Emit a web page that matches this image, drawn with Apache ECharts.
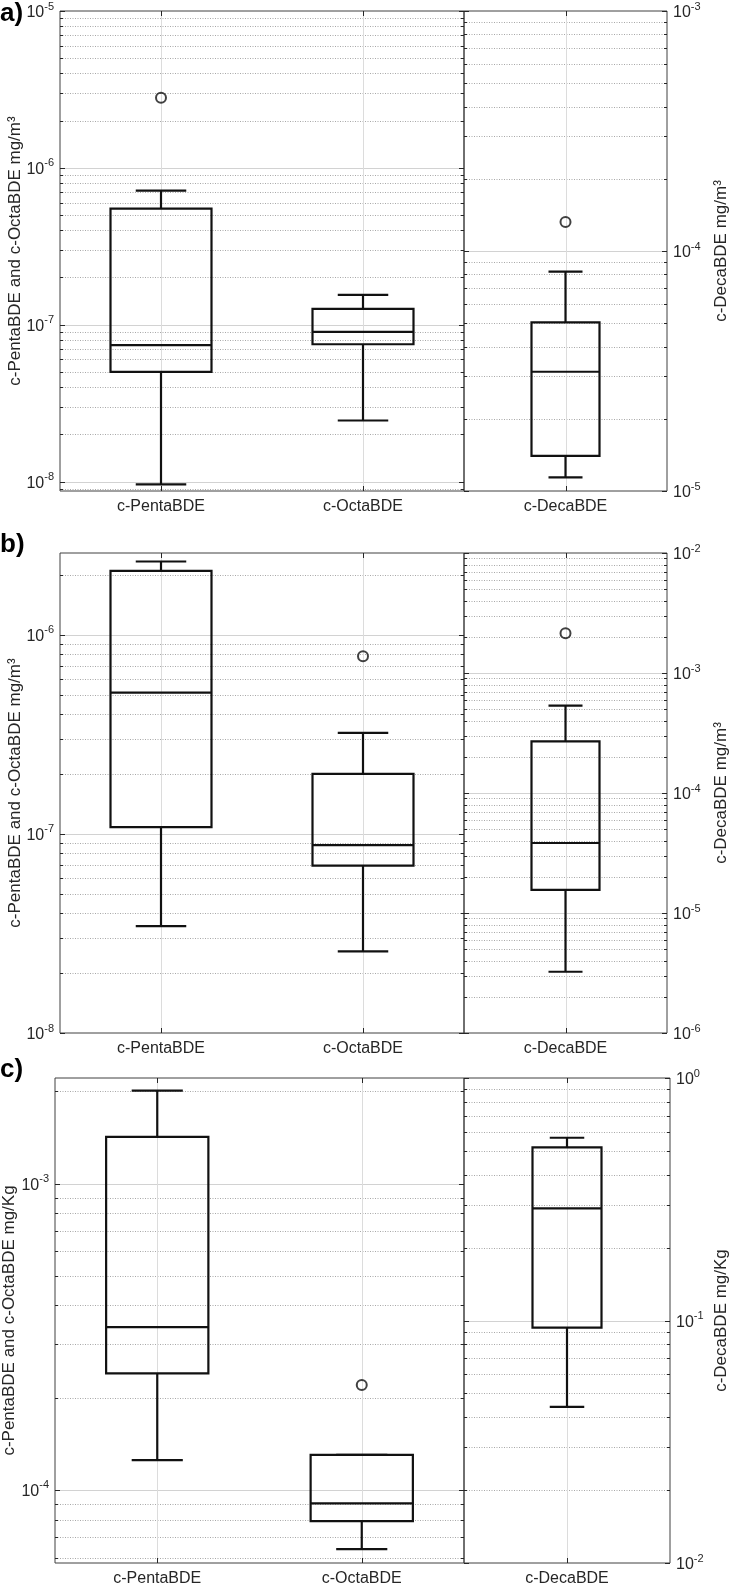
<!DOCTYPE html>
<html style="height: 100%">
<head>
    <meta charset="UTF-8">
    <title>PBDE boxplots</title>
    <script src="https://cdn.jsdelivr.net/npm/echarts@6/dist/echarts.min.js"></script>
</head>
<body style="height: 100%; margin: 0; background: #fff">
    <div id="main" style="width: 731px; height: 1586px;"></div>
    <script>
        // categories
        var catsLeft = ['c-PentaBDE', 'c-OctaBDE'];
        var catsRight = ['c-DecaBDE'];

        // box stats, each [min, Q1, median, Q3, max]
        var pentaA = [9.6e-9, 5.0e-8, 7.4e-8, 5.5e-7, 7.15e-7];
        var octaA = [2.45e-8, 7.5e-8, 9.0e-8, 1.26e-7, 1.55e-7];
        var decaA = [1.14e-5, 1.4e-5, 3.14e-5, 5.04e-5, 8.2e-5];
        var pentaB = [3.44e-8, 1.08e-7, 5.12e-7, 2.09e-6, 2.33e-6];
        var octaB = [2.57e-8, 6.93e-8, 8.77e-8, 2.0e-7, 3.21e-7];
        var decaB = [3.24e-6, 1.56e-5, 3.83e-5, 2.69e-4, 5.34e-4];
        var pentaC = [1.25e-4, 2.4e-4, 3.4e-4, 1.42e-3, 2.01e-3];
        var octaC = [6.4e-5, 7.9e-5, 9.03e-5, 1.30e-4, 1.30e-4];
        var decaC = [0.044, 0.0934, 0.29, 0.518, 0.567];

        // outliers
        var outPentaA = [2.8e-6], outOctaA = [], outDecaA = [1.32e-4];
        var outPentaB = [], outOctaB = [7.8e-7], outDecaB = [2.14e-3];
        var outPentaC = [], outOctaC = [2.2e-4], outDecaC = [];

        // axis limits
        var leftLimA = [8.7e-9, 1e-5], rightLimA = [1e-5, 1e-3];
        var leftLimB = [1e-8, 2.57e-6], rightLimB = [1e-6, 1e-2];
        var leftLimC = [5.77e-5, 2.21e-3], rightLimC = [1e-2, 1];

        var nameLeftAir = 'c-PentaBDE and c-OctaBDE mg/m³';
        var nameRightAir = 'c-DecaBDE mg/m³';
        var nameLeftDust = 'c-PentaBDE and c-OctaBDE mg/Kg';
        var nameRightDust = 'c-DecaBDE mg/Kg';

        var FONT = '"Liberation Sans", Arial, Helvetica, sans-serif';
        var TXT = '#262626';

        var grids = [], xAxes = [], yAxes = [], series = [], titles = [];

        // 10^n labels, blank for the non-decade limit ticks
        function supLabel(v) {
            var e = Math.log10(v), r = Math.round(e);
            if (Math.abs(e - r) > 1e-6) return '';
            return '{b|10}{s|' + r + '}';
        }
        var tickRich = {
            b: { fontSize: 16, lineHeight: 20, verticalAlign: 'bottom', color: TXT, fontFamily: FONT },
            s: { fontSize: 11, lineHeight: 10, verticalAlign: 'top', color: TXT, fontFamily: FONT }
        };

        // decade and 2..9 tick values inside a range
        function logTicks(lim) {
            var out = [];
            for (var k = Math.floor(Math.log10(lim[0])); k <= Math.ceil(Math.log10(lim[1])); k++) {
                for (var m = 1; m <= 9; m++) {
                    var v = m * Math.pow(10, k);
                    if (v >= lim[0] * 0.999 && v <= lim[1] * 1.001) out.push([0, v, m === 1 ? 1 : 0]);
                }
            }
            return out;
        }

        function crisp(v) { return Math.round(v) + 0.5; }

        function renderHGrid(params, api) {
            var cs = params.coordSys;
            var y = crisp(api.coord([0, api.value(1)])[1]);
            var major = api.value(2) === 1;
            var tl = major ? 5 : 3;
            var kids = [];
            if (y > cs.y + 1 && y < cs.y + cs.height - 1) {
                kids.push({
                    type: 'line', shape: { x1: cs.x, y1: y, x2: cs.x + cs.width, y2: y },
                    style: major ? { stroke: '#d2d2d2', lineWidth: 1 }
                                 : { stroke: '#a8a8a8', lineWidth: 1, lineDash: [1, 1.5] }
                });
            }
            kids.push({ type: 'line', shape: { x1: cs.x, y1: y, x2: cs.x + tl, y2: y }, style: { stroke: TXT, lineWidth: 1 } });
            kids.push({ type: 'line', shape: { x1: cs.x + cs.width - tl, y1: y, x2: cs.x + cs.width, y2: y }, style: { stroke: TXT, lineWidth: 1 } });
            return { type: 'group', children: kids };
        }

        function renderVGrid(params, api) {
            var cs = params.coordSys;
            var x = crisp(api.coord([api.value(0), api.value(1)])[0]);
            return {
                type: 'group', children: [
                    { type: 'line', shape: { x1: x, y1: cs.y, x2: x, y2: cs.y + cs.height }, style: { stroke: '#dcdcdc', lineWidth: 1 } },
                    { type: 'line', shape: { x1: x, y1: cs.y, x2: x, y2: cs.y + 5 }, style: { stroke: TXT, lineWidth: 1 } },
                    { type: 'line', shape: { x1: x, y1: cs.y + cs.height - 5, x2: x, y2: cs.y + cs.height }, style: { stroke: TXT, lineWidth: 1 } }
                ]
            };
        }

        function boxRenderer(frac, nCat) {
            return function (params, api) {
                var cs = params.coordSys;
                var idx = api.value(0);
                var x = api.coord([idx, api.value(3)])[0];
                var yMin = api.coord([idx, api.value(1)])[1];
                var yQ1 = api.coord([idx, api.value(2)])[1];
                var yMed = api.coord([idx, api.value(3)])[1];
                var yQ3 = api.coord([idx, api.value(4)])[1];
                var yMax = api.coord([idx, api.value(5)])[1];
                var hw = cs.width / nCat * frac / 2, cw = hw / 2;
                var st = { stroke: '#111', lineWidth: 2.2, fill: 'none' };
                function ln(x1, y1, x2, y2) { return { type: 'line', shape: { x1: x1, y1: y1, x2: x2, y2: y2 }, style: st }; }
                return {
                    type: 'group', children: [
                        { type: 'rect', shape: { x: x - hw, y: yQ3, width: 2 * hw, height: yQ1 - yQ3 }, style: st },
                        ln(x - hw, yMed, x + hw, yMed),
                        ln(x, yQ3, x, yMax), ln(x - cw, yMax, x + cw, yMax),
                        ln(x, yQ1, x, yMin), ln(x - cw, yMin, x + cw, yMin)
                    ]
                };
            };
        }

        function boxItems(list) { return list.map(function (s, i) { return [i].concat(s); }); }
        function outItems(list) {
            var r = [];
            list.forEach(function (vals, i) { vals.forEach(function (v) { r.push([i, v]); }); });
            return r;
        }

        function addSide(gi, cats, lim, boxes, outs, frac) {
            var common = { xAxisIndex: gi, yAxisIndex: gi, silent: true };
            series.push(Object.assign({ type: 'custom', z: 1, data: logTicks(lim), encode: { x: 0, y: 1 }, renderItem: renderHGrid }, common));
            series.push(Object.assign({ type: 'custom', z: 1, data: cats.map(function (c, i) { return [i, lim[0]]; }), encode: { x: 0, y: 1 }, renderItem: renderVGrid }, common));
            series.push(Object.assign({ type: 'custom', z: 3, data: boxItems(boxes), encode: { x: 0, y: [1, 2, 3, 4, 5] }, renderItem: boxRenderer(frac, cats.length) }, common));
            series.push(Object.assign({
                type: 'scatter', z: 4, data: outItems(outs), symbol: 'circle', symbolSize: 10,
                itemStyle: { color: 'rgba(0,0,0,0)', borderColor: '#111', borderWidth: 2 }
            }, common));
        }

        function addPanel(p) {
            var gl = grids.length, gr = gl + 1;
            var gridBase = { show: true, borderColor: '#404040', borderWidth: 1, top: p.top, height: p.height, outerBoundsMode: 'none' };
            grids.push(Object.assign({ left: p.left, width: p.mid - p.left }, gridBase));
            grids.push(Object.assign({ left: p.mid, width: p.right - p.mid }, gridBase));
            [[gl, p.catsL], [gr, p.catsR]].forEach(function (g) {
                xAxes.push({
                    gridIndex: g[0], type: 'category', data: g[1], boundaryGap: true,
                    axisLine: { show: false }, axisTick: { show: false }, splitLine: { show: false },
                    axisLabel: { color: TXT, fontSize: 16, fontFamily: FONT, margin: 8 }
                });
            });
            var yBase = {
                type: 'log', logBase: 10, axisLine: { show: false }, axisTick: { show: false }, splitLine: { show: false },
                axisLabel: { formatter: supLabel, rich: tickRich, margin: 6 },
                nameLocation: 'middle', nameRotate: 90, nameMoveOverlap: false,
                nameTextStyle: { color: TXT, fontSize: 17, fontFamily: FONT }
            };
            yAxes.push(Object.assign({}, yBase, { gridIndex: gl, position: 'left', min: p.limL[0], max: p.limL[1], name: p.nameL, nameGap: p.gapL }));
            yAxes.push(Object.assign({}, yBase, { gridIndex: gr, position: 'right', min: p.limR[0], max: p.limR[1], name: p.nameR, nameGap: p.gapR }));
            addSide(gl, p.catsL, p.limL, p.boxesL, p.outsL, 0.5);
            addSide(gr, p.catsR, p.limR, p.boxesR, p.outsR, 0.335);
            titles.push({
                text: p.tag, left: 0, top: p.tagTop, padding: 0,
                textStyle: { fontSize: 26, fontWeight: 'bold', color: '#000', fontFamily: FONT }
            });
        }

        addPanel({
            tag: 'a)', tagTop: 1, top: 11, height: 480, left: 60, mid: 464, right: 667,
            catsL: catsLeft, catsR: catsRight, limL: leftLimA, limR: rightLimA,
            boxesL: [pentaA, octaA], boxesR: [decaA], outsL: [outPentaA, outOctaA], outsR: [outDecaA],
            nameL: nameLeftAir, nameR: nameRightAir, gapL: 36, gapR: 46
        });
        addPanel({
            tag: 'b)', tagTop: 532, top: 553, height: 480, left: 60, mid: 464, right: 667,
            catsL: catsLeft, catsR: catsRight, limL: leftLimB, limR: rightLimB,
            boxesL: [pentaB, octaB], boxesR: [decaB], outsL: [outPentaB, outOctaB], outsR: [outDecaB],
            nameL: nameLeftAir, nameR: nameRightAir, gapL: 36, gapR: 46
        });
        addPanel({
            tag: 'c)', tagTop: 1057, top: 1078, height: 485, left: 55, mid: 464, right: 670,
            catsL: catsLeft, catsR: catsRight, limL: leftLimC, limR: rightLimC,
            boxesL: [pentaC, octaC], boxesR: [decaC], outsL: [outPentaC, outOctaC], outsR: [outDecaC],
            nameL: nameLeftDust, nameR: nameRightDust, gapL: 37, gapR: 43
        });

        var myChart = echarts.init(document.getElementById('main'));
        myChart.setOption({
            animation: false,
            backgroundColor: '#fff',
            title: titles,
            grid: grids,
            xAxis: xAxes,
            yAxis: yAxes,
            series: series
        });
    </script>
</body>
</html>
